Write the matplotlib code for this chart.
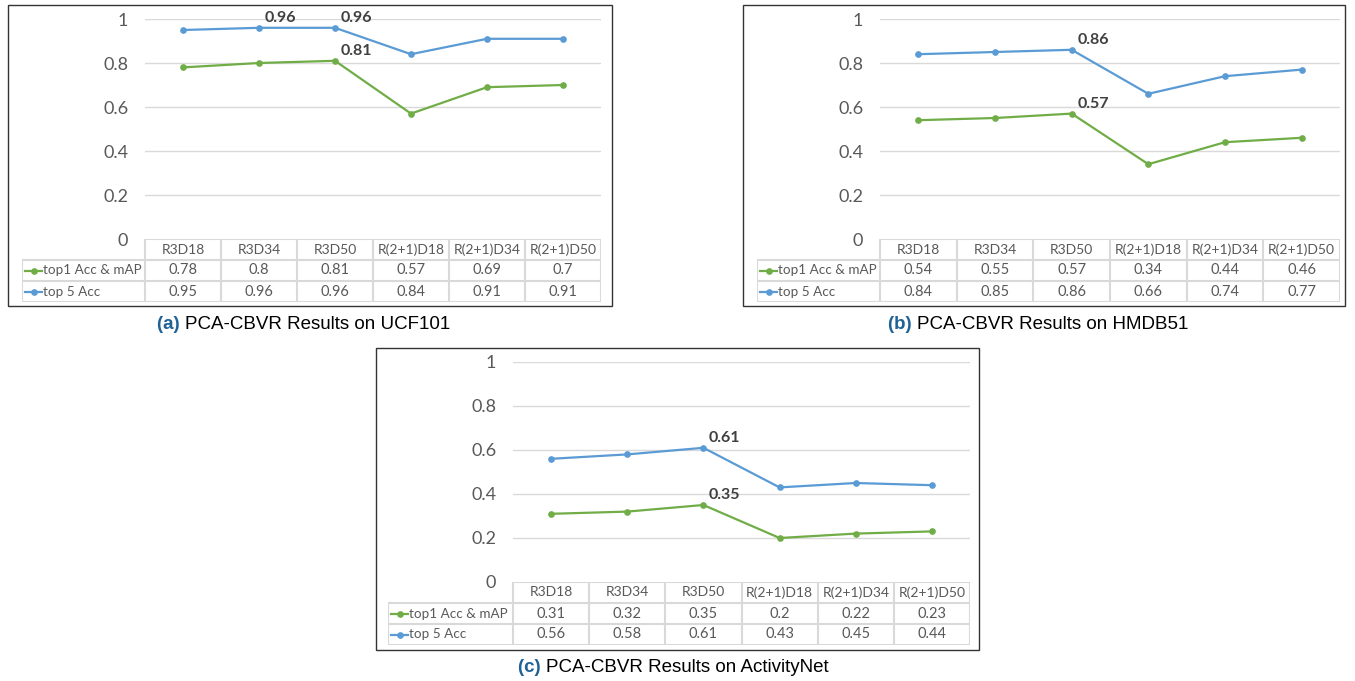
import matplotlib.pyplot as plt
from matplotlib.patches import Rectangle

# data
models = ['R3D18', 'R3D34', 'R3D50', 'R(2+1)D18', 'R(2+1)D34', 'R(2+1)D50']
series_names = ['top1 Acc & mAP', 'top 5 Acc']
ucf_top1 = [0.78, 0.8, 0.81, 0.57, 0.69, 0.7]
ucf_top5 = [0.95, 0.96, 0.96, 0.84, 0.91, 0.91]
hmdb_top1 = [0.54, 0.55, 0.57, 0.34, 0.44, 0.46]
hmdb_top5 = [0.84, 0.85, 0.86, 0.66, 0.74, 0.77]
anet_top1 = [0.31, 0.32, 0.35, 0.2, 0.22, 0.23]
anet_top5 = [0.56, 0.58, 0.61, 0.43, 0.45, 0.44]
yticks = [0, 0.2, 0.4, 0.6, 0.8, 1]
ytick_labels = ['0', '0.2', '0.4', '0.6', '0.8', '1']
# (series index, model index) of the bold value labels
ucf_labels = [(1, 1), (1, 2), (0, 2)]
hmdb_labels = [(1, 2), (0, 2)]
anet_labels = [(1, 2), (0, 2)]
captions = [('(a)', 'PCA-CBVR Results on UCF101'),
            ('(b)', 'PCA-CBVR Results on HMDB51'),
            ('(c)', 'PCA-CBVR Results on ActivityNet')]

colors = ['#70AD47', '#5B9BD5']
grid_c = '#D9D9D9'
text_c = '#595959'
chart_font = 'Lato'

W, H = 1355, 681
fig = plt.figure(figsize=(W / 100, H / 100), dpi=100)


def px_axes(x0, y0, x1, y1):
    return fig.add_axes([x0 / W, 1 - y1 / H, (x1 - x0) / W, (y1 - y0) / H])


def panel(box, px0, px1, lx, ytop, ybot, top1, top5, labels, caption, cap_x, cap_y):
    bx0, by0, bx1, by1 = box
    fig.patches.append(Rectangle((bx0 / W, 1 - by1 / H), (bx1 - bx0) / W, (by1 - by0) / H,
                                 transform=fig.transFigure, fill=False,
                                 edgecolor='#333333', lw=1.0))
    vals = [top1, top5]
    x = range(len(models))

    ax = px_axes(px0, ytop, px1, ybot)
    ax.set_xlim(-0.5, 5.5)
    ax.set_ylim(0, 1)
    for s in ax.spines.values():
        s.set_visible(False)
    ax.set_xticks([])
    ax.set_yticks(yticks)
    ax.set_yticklabels(ytick_labels, fontsize=13, color=text_c, family=chart_font)
    ax.tick_params(axis='y', length=0, pad=12)
    for t in yticks[1:]:
        ax.axhline(t, color=grid_c, lw=1.0, zorder=0)
    for k in range(2):
        ax.plot(x, vals[k], color=colors[k], lw=1.6, marker='o', ms=3.8, zorder=3)
    for k, i in labels:
        ax.annotate(f'{vals[k][i]:g}', (i, vals[k][i]), xytext=(4, 2),
                    textcoords='offset points', ha='left', va='bottom',
                    fontsize=11.5, fontweight='bold', color='#404040',
                    family=chart_font, annotation_clip=False)

    # data table under the plot
    row_h = 21
    col_w = (px1 - px0) / 6
    xl = -0.5 - (px0 - lx) / col_w
    tb = px_axes(lx, ybot, px1, ybot + 3 * row_h)
    tb.set_xlim(xl, 5.5)
    tb.set_ylim(3, 0)
    tb.axis('off')
    lc = dict(color=grid_c, lw=1.5, solid_capstyle='butt')
    tb.plot([-0.5, 5.5], [0, 0], **lc)
    for r in (1, 2, 3):
        tb.plot([xl, 5.5], [r, r], **lc)
    tb.plot([xl, xl], [1, 3], **lc)
    for c in range(7):
        tb.plot([c - 0.5, c - 0.5], [0, 3], **lc)
    for i, m in enumerate(models):
        tb.text(i, 0.5, m, ha='center', va='center', fontsize=10,
                color=text_c, family=chart_font)
        for k in range(2):
            tb.text(i, 1.5 + k, f'{vals[k][i]:g}', ha='center', va='center',
                    fontsize=10.5, color=text_c, family=chart_font)
    for k in range(2):
        s0 = xl + 3 / col_w
        s1 = xl + 20 / col_w
        tb.plot([s0, s1], [1.5 + k, 1.5 + k], color=colors[k], lw=1.6)
        tb.plot([(s0 + s1) / 2], [1.5 + k], 'o', color=colors[k], ms=3.8)
        tb.text(xl + 21 / col_w, 1.5 + k, series_names[k], ha='left', va='center',
                fontsize=9.7, color=text_c, family=chart_font)

    tag, rest = caption
    fig.text(cap_x / W, 1 - cap_y / H, tag + ' ', ha='right', va='center', fontsize=13.5,
             fontweight='bold', color='#1F6396', family='Liberation Sans')
    fig.text(cap_x / W, 1 - cap_y / H, rest, ha='left', va='center', fontsize=13.5,
             color='black', family='Liberation Sans')


panel((8, 5, 612, 306), 145, 601, 22, 19, 239, ucf_top1, ucf_top5, ucf_labels,
      captions[0], 185, 325)
panel((743, 5, 1345, 306), 880, 1340, 757, 19, 239, hmdb_top1, hmdb_top5, hmdb_labels,
      captions[1], 917, 325)
panel((376, 348, 979, 650), 513, 970, 388, 362, 582, anet_top1, anet_top5, anet_labels,
      captions[2], 546, 668)

fig.savefig('out.png', dpi=100)
